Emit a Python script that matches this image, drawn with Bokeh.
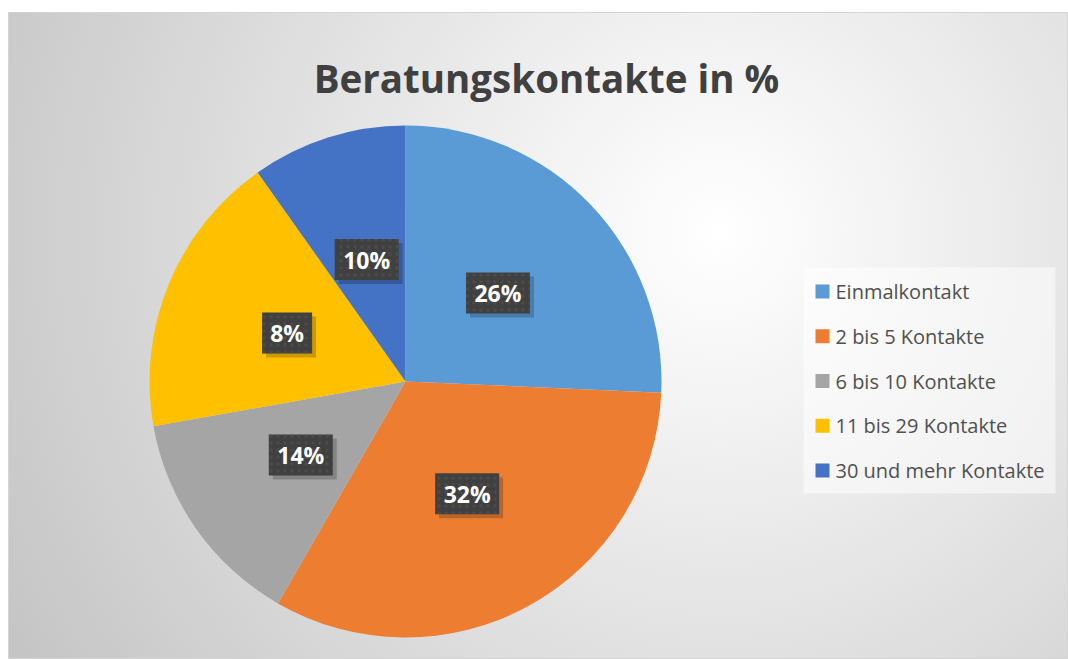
import math
from bokeh.plotting import figure
from bokeh.models import Range1d, ColumnDataSource
from bokeh.core.properties import value
from bokeh.embed import file_html
from bokeh.resources import INLINE

# ---- data ----
title_text = "Beratungskontakte in %"
categories = ["Einmalkontakt", "2 bis 5 Kontakte", "6 bis 10 Kontakte",
              "11 bis 29 Kontakte", "30 und mehr Kontakte"]
shares = [25.7, 32.6, 13.9, 18.0, 9.8]          # slice sizes
labels = ["26%", "32%", "14%", "8%", "10%"]      # data labels as printed
colors = ["#5B9BD5", "#ED7D31", "#A5A5A5", "#FFC000", "#4472C4"]

# ---- geometry ----
R = 256
total = sum(shares)
starts, ends, lx, ly, bw = [], [], [], [], []
cum = 0.0
for s, lab in zip(shares, labels):
    a0 = math.pi / 2 - 2 * math.pi * cum / total
    cum += s
    a1 = math.pi / 2 - 2 * math.pi * cum / total
    starts.append(a0)
    ends.append(a1)
    mid = (a0 + a1) / 2
    lx.append(0.5 * R * math.cos(mid))
    ly.append(0.5 * R * math.sin(mid))
    bw.append(14 * len(lab) + 22)

src = ColumnDataSource(dict(start=starts, end=ends, color=colors, cat=categories))
lab_src = ColumnDataSource(dict(x=lx, y=ly, sx=[v + 4 for v in lx], sy=[v - 4 for v in ly],
                                w=bw, text=labels))

p = figure(width=1060, height=647, x_range=Range1d(-397, 663), y_range=Range1d(-278, 369),
           output_backend="svg", toolbar_location=None, min_border=0)
p.margin = (12, 0, 0, 8)
p.axis.visible = False
p.grid.visible = False
p.outline_line_color = "#d4d4d4"
p.background_fill_alpha = 0
p.border_fill_alpha = 0
p.styles = {"background": "radial-gradient(circle at 67% 34%, #ffffff 0%, #f5f5f5 18%, #c4c4c4 100%)"}

# pie
p.wedge(x=0, y=0, radius=R, start_angle="start", end_angle="end", direction="clock",
        fill_color="color", line_color=None, source=src)

# data label boxes with shadow
p.rect(x="sx", y="sy", width="w", height=41, fill_color="black", fill_alpha=0.2,
       line_color=None, source=lab_src)
p.rect(x="x", y="y", width="w", height=41, fill_color="#404040", line_color=None,
       hatch_pattern="dot", hatch_color="#4b4b4b", hatch_scale=7, hatch_weight=1.5,
       source=lab_src)
p.text(x="x", y="y", text="text", text_align="center", text_baseline="middle",
       text_color="white", text_font=value("Open Sans"), text_font_style="bold",
       text_font_size="23px", source=lab_src)

# title
p.text(x=[141], y=[304], text=[title_text], text_align="center", text_baseline="alphabetic",
       text_color="#404040", text_font=value("Open Sans"), text_font_style="bold",
       text_font_size="38.5px")

# legend (drawn by hand to match layout)
n = len(categories)
leg_y = [90 - 44.75 * i for i in range(n)]
p.rect(x=[524], y=[1], width=252, height=226, fill_color="white", fill_alpha=0.5, line_color=None)
p.scatter(x=[417] * n, y=leg_y, marker="square", size=14, fill_color=colors, line_color=None)
p.text(x=[430] * n, y=leg_y, text=categories, text_align="left", text_baseline="middle",
       text_color="#505050", text_font=value("Open Sans"), text_font_size="20px")

open("out.html", "w").write(file_html(p, INLINE))
